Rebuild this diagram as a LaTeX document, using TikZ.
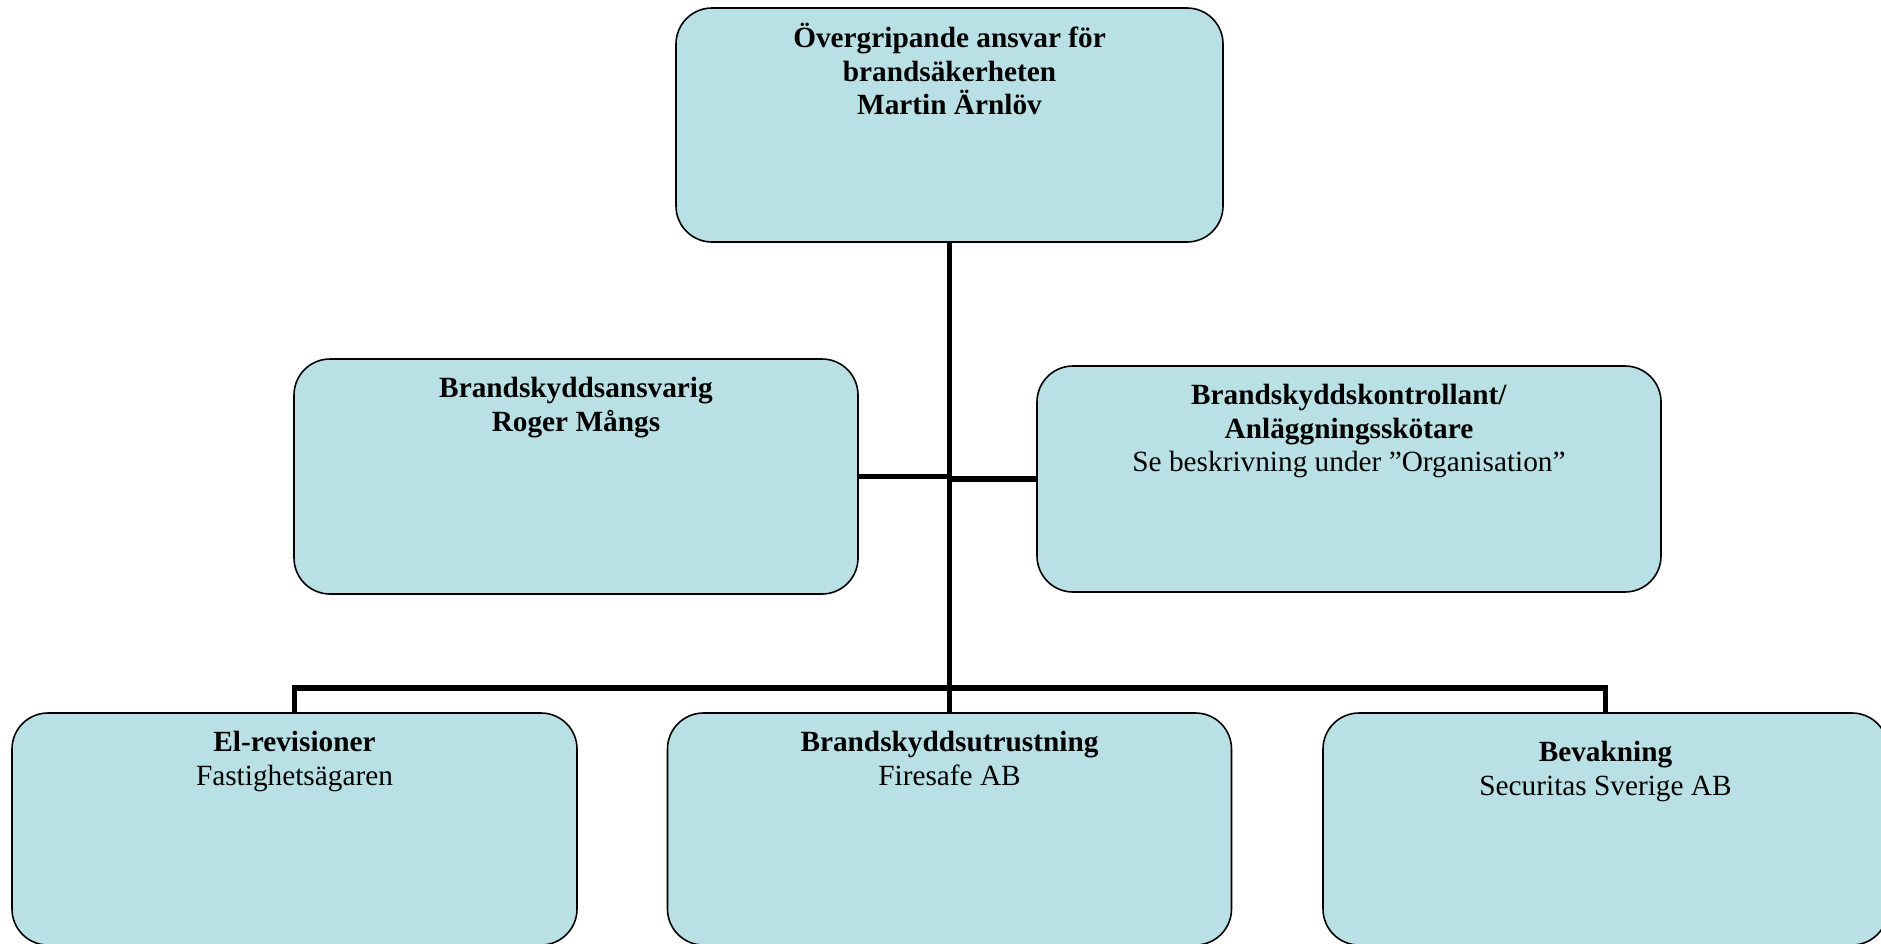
\documentclass[tikz,border=0pt]{standalone}
\usepackage{fontspec}
\setmainfont{Liberation Serif}
\usetikzlibrary{positioning}
\definecolor{boxfill}{RGB}{185,224,228}

\begin{document}
\begin{tikzpicture}[x=1pt,y=-1pt,
	box/.style={draw=black, line width=1.6pt, fill=boxfill, rounded corners=36pt},
	txt/.style={align=center, anchor=north, inner sep=0pt, font=\fontsize{29.3}{33.5}\selectfont},
	conn/.style={black, line width=5.5pt}]
	\useasboundingbox (0,0) rectangle (1881,943);
	\clip (0,0) rectangle (1881,943);
	% boxes
	\node[box, minimum width=547pt, minimum height=234pt] (top) at (949.5,125) {};
	\node[box, minimum width=564pt, minimum height=235pt] (ansv) at (576,476.5) {};
	\node[box, minimum width=624pt, minimum height=226pt] (kontr) at (1349,479) {};
	\node[box, minimum width=565pt, minimum height=232pt] (elrev) at (294.5,829) {};
	\node[box, minimum width=564pt, minimum height=232pt] (utr) at (949.5,829) {};
	\node[box, minimum width=565pt, minimum height=232pt] (bevak) at (1605.5,829) {};
	% texts
	\node[txt, below=16pt of top.north] (topt) {\strut\textbf{Övergripande ansvar för}\\\textbf{brandsäkerheten}\\\textbf{Martin Ärnlöv}};
	\node[txt, below=16pt of ansv.north] (ansvt) {\strut\textbf{Brandskyddsansvarig}\\\textbf{Roger Mångs}};
	\node[txt, below=16pt of kontr.north] (kontrt) {\strut\textbf{Brandskyddskontrollant/}\\\textbf{Anläggningsskötare}\\Se beskrivning under ”Organisation”};
	\node[txt, below=16pt of elrev.north] (elrevt) {\strut\textbf{El-revisioner}\\Fastighetsägaren};
	\node[txt, below=16pt of utr.north] (utrt) {\strut\textbf{Brandskyddsutrustning}\\Firesafe AB};
	\node[txt, below=26pt of bevak.north] (bevakt) {\strut\textbf{Bevakning}\\Securitas Sverige AB};
	% connectors
	\coordinate (bus) at (949.5,688);
	\draw[conn] (top.south) -- (utr.north);
	\draw[conn] (ansv.east) -- (ansv.east -| top.south);
	\draw[conn] (kontr.west -| top.south) -- (kontr.west);
	\draw[conn] (elrev.north) |- (bus) -| (bevak.north);
\end{tikzpicture}
\end{document}
